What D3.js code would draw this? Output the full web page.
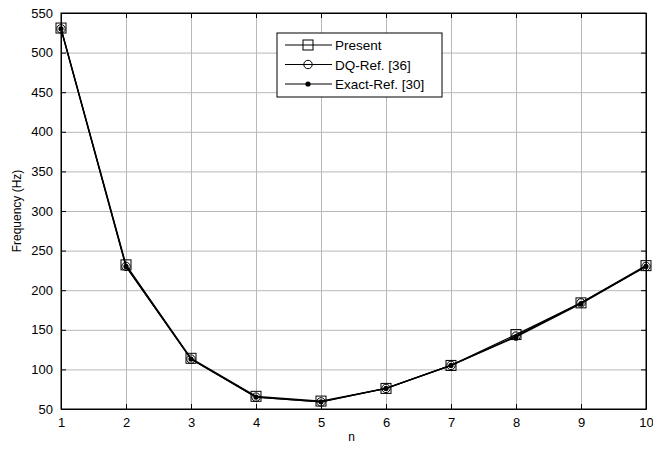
<!DOCTYPE html>
<html>
<head>
<meta charset="utf-8">
<script src="https://cdn.jsdelivr.net/npm/d3@7"></script>
<style>
  body { margin: 0; background: #fff; }
  svg { display: block; font-family: "Liberation Sans", Arial, sans-serif; }
  .tick text { font-size: 13px; fill: #000; }
  .grid line { stroke: #b8b8b8; stroke-width: 1; }
  .grid path { stroke: none; }
</style>
</head>
<body>
<div id="chart"></div>
<script>
// values
var modes = [1, 2, 3, 4, 5, 6, 7, 8, 9, 10]
var present = [531, 232, 114, 66, 60, 76, 105, 144, 184, 231]
var dqRef = [530, 230, 113, 65, 59, 76, 105, 142, 184, 230]
var exactRef = [530, 230, 113, 65, 59, 76, 105, 141, 183, 230]
var yTicks = [50, 100, 150, 200, 250, 300, 350, 400, 450, 500, 550]
var seriesNames = ["Present", "DQ-Ref. [36]", "Exact-Ref. [30]"]

var W = 653, H = 449
var margin = { left: 61, right: 7, top: 13, bottom: 40 }
var w = W - margin.left - margin.right
var h = H - margin.top - margin.bottom

var svg = d3.select("#chart").append("svg").attr("width", W).attr("height", H)
var g = svg.append("g").attr("transform", "translate(" + margin.left + "," + margin.top + ")")

var x = d3.scaleLinear().domain([1, 10]).range([0, w])
var y = d3.scaleLinear().domain([50, 550]).range([h, 0])

// grid
g.append("g").attr("class", "grid")
  .call(d3.axisBottom(x).tickValues(modes.slice(1, -1)).tickSize(h).tickFormat(""))
g.append("g").attr("class", "grid")
  .call(d3.axisLeft(y).tickValues(yTicks.slice(1, -1)).tickSize(-w).tickFormat(""))

// axes, MATLAB style ticks pointing inward
var ax = g.append("g").attr("transform", "translate(0," + h + ")")
  .call(d3.axisBottom(x).tickValues(modes).tickSizeInner(-5).tickSizeOuter(0).tickPadding(9))
var ay = g.append("g")
  .call(d3.axisLeft(y).tickValues(yTicks).tickSizeInner(-5).tickSizeOuter(0).tickPadding(8))
g.append("g").call(d3.axisTop(x).tickValues(modes).tickSizeInner(-5).tickSizeOuter(0).tickFormat(""))
g.append("g").attr("transform", "translate(" + w + ",0)")
  .call(d3.axisRight(y).tickValues(yTicks).tickSizeInner(-5).tickSizeOuter(0).tickFormat(""))
g.selectAll(".domain").attr("stroke", "#000")
g.selectAll(".tick line").filter(function () { return !this.closest(".grid") }).attr("stroke", "#000")

g.append("rect").attr("width", w).attr("height", h)
  .attr("fill", "none").attr("stroke", "#000").attr("stroke-width", 1)

// titles
svg.append("text").attr("x", margin.left + w / 2 - 2).attr("y", 441)
  .attr("text-anchor", "middle").style("font-size", "12px").text("n")
svg.append("text").attr("transform", "translate(21," + (margin.top + h / 2) + ") rotate(-90)")
  .attr("text-anchor", "middle").style("font-size", "12px").text("Frequency (Hz)")

var line = d3.line().x(function (d, i) { return x(modes[i]) }).y(function (d) { return y(d) })

var series = [present, dqRef, exactRef]
series.forEach(function (s) {
  g.append("path").attr("d", line(s)).attr("fill", "none").attr("stroke", "#000").attr("stroke-width", 1.3)
})

function drawMarker(sel, kind, cx, cy) {
  if (kind === 0) {
    sel.append("rect").attr("x", cx - 5).attr("y", cy - 5).attr("width", 10).attr("height", 10)
      .attr("fill", "none").attr("stroke", "#000").attr("stroke-width", 1)
  } else if (kind === 1) {
    sel.append("circle").attr("cx", cx).attr("cy", cy).attr("r", 4.2)
      .attr("fill", "none").attr("stroke", "#000").attr("stroke-width", 1)
  } else {
    sel.append("circle").attr("cx", cx).attr("cy", cy).attr("r", 2.6).attr("fill", "#000")
  }
}

series.forEach(function (s, k) {
  s.forEach(function (v, i) { drawMarker(g, k, x(modes[i]), y(v)) })
})

// legend
var lg = svg.append("g").attr("transform", "translate(277,33)")
lg.append("rect").attr("width", 165).attr("height", 64).attr("fill", "#fff").attr("stroke", "#000").attr("stroke-width", 1)
seriesNames.forEach(function (name, k) {
  var ly = 12 + k * 19.5
  lg.append("line").attr("x1", 8).attr("x2", 55).attr("y1", ly).attr("y2", ly).attr("stroke", "#000").attr("stroke-width", 1)
  drawMarker(lg, k, 31, ly)
  lg.append("text").attr("x", 58).attr("y", ly + 5).style("font-size", "13.5px").text(name)
})
</script>
</body>
</html>
